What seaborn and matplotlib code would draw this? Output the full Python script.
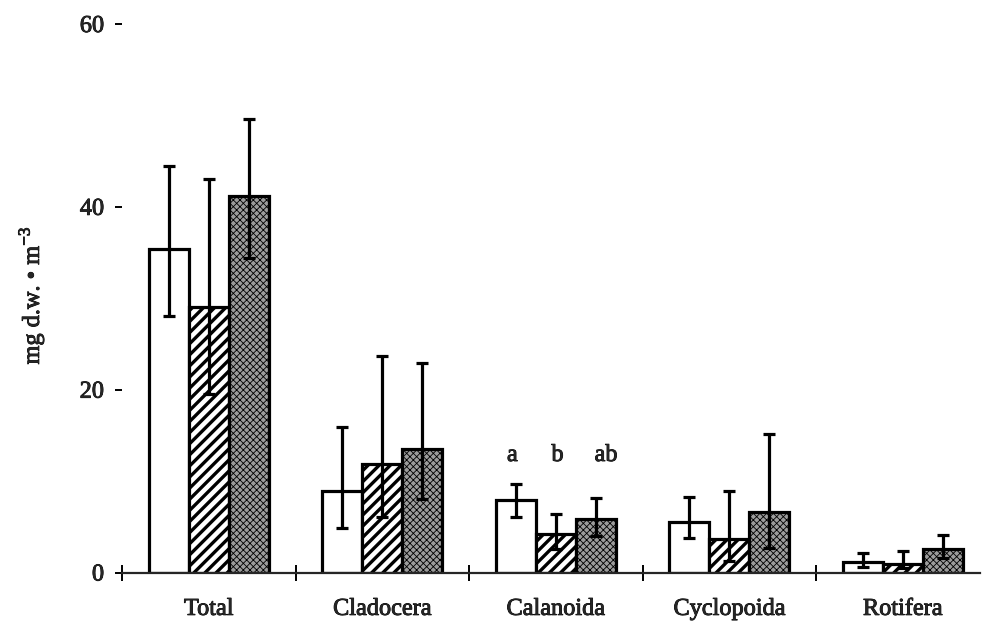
import matplotlib
matplotlib.use("Agg")
import matplotlib.pyplot as plt
import matplotlib.patheffects as pe
import numpy as np
import pandas as pd
import seaborn as sns

# Zooplankton biomass per group (mg dry weight per m^3), three treatments
categories = ["Total", "Cladocera", "Calanoida", "Cyclopoida", "Rotifera"]
treatments = ["I", "II", "III"]

mean_i = [35.4, 8.9, 7.9, 5.5, 1.2]
mean_ii = [29.0, 11.9, 4.2, 3.7, 0.9]
mean_iii = [41.2, 13.5, 5.8, 6.6, 2.6]

low_i = [28.1, 4.9, 6.1, 3.8, 0.55]
high_i = [44.5, 15.9, 9.7, 8.3, 2.1]
low_ii = [19.5, 6.1, 2.6, 1.3, 0.5]
high_ii = [43.0, 23.7, 6.4, 8.9, 2.3]
low_iii = [34.4, 8.0, 4.0, 2.7, 1.6]
high_iii = [49.6, 22.9, 8.1, 15.1, 4.1]

# significance letters above the Calanoida bars
letters = ["a", "b", "ab"]
letter_y = 12.8

y_ticks = [0, 20, 40, 60]

means = [mean_i, mean_ii, mean_iii]
lows = [low_i, low_ii, low_iii]
highs = [high_i, high_ii, high_iii]

df = pd.DataFrame({
    "group": np.repeat([categories], len(treatments), axis=0).ravel(),
    "treatment": np.repeat(treatments, len(categories)),
    "biomass": np.concatenate(means),
})

sns.set_style("white")
plt.rcParams["font.family"] = ["Liberation Serif", "DejaVu Serif"]
plt.rcParams["mathtext.fontset"] = "custom"
plt.rcParams["mathtext.rm"] = "Liberation Serif"
plt.rcParams["hatch.linewidth"] = 2.4

fig = plt.figure(figsize=(9.87, 6.29), dpi=100)
ax = fig.add_axes([0.1236, 0.0898, 0.8693, 0.8720])

gray = "#9c9c9c"
sns.barplot(data=df, x="group", y="biomass", hue="treatment",
            order=categories, hue_order=treatments, width=0.69, gap=0,
            errorbar=None, legend=False, ax=ax,
            palette=["white", "white", gray],
            edgecolor="black", linewidth=2.3, saturation=1)

heavy = [pe.withStroke(linewidth=0.6, foreground="black")]

bar_containers = list(ax.containers)
styles = [("white", ""), ("white", "///"), (gray, "xxxxx")]
for k, cont in enumerate(bar_containers):
    face, hatch = styles[k]
    xs = []
    for bar in cont:
        bar.set_facecolor(face)
        bar.set_edgecolor("black")
        bar.set_hatch(hatch)
        if k == 2 and hasattr(bar, "set_hatch_linewidth"):
            bar.set_hatch_linewidth(0.6)
        xs.append(bar.get_x() + bar.get_width() / 2)
    xs = np.array(xs)
    m = np.array(means[k])
    lo = np.array(lows[k])
    hi = np.array(highs[k])
    ax.errorbar(xs, m, yerr=[m - lo, hi - m], fmt="none", ecolor="black",
                elinewidth=2.3, capsize=4.5, capthick=2.3, zorder=5)
    # letters over the Calanoida bars
    ax.text(xs[2] + [-0.02, 0.01, 0.06][k], letter_y, letters[k],
            ha="center", va="center", fontsize=17.5, path_effects=heavy)

ax.set_xlim(-0.5, 4.445)
ax.set_ylim(0, 60)
ax.set_yticks(y_ticks)
ax.set_xticks(range(len(categories)))
ax.set_xticklabels(categories)
ax.set_xticks(np.arange(-0.5, len(categories) - 1), minor=True)

for side in ["left", "top", "right"]:
    ax.spines[side].set_visible(False)
ax.spines["bottom"].set_linewidth(1.6)

ax.tick_params(axis="x", which="major", bottom=False, length=0, pad=19,
               labelsize=17.5)
ax.tick_params(axis="x", which="minor", bottom=True, direction="inout",
               length=11, width=1.4, color="black")
ax.tick_params(axis="y", direction="out", length=5, width=1.4, pad=8,
               labelsize=17.5, left=True, color="black")

ax.set_xlabel("")
ax.set_ylabel("mg d.w. • m$^{-3}$", fontsize=17.5)
ax.yaxis.set_label_coords(-0.088, 0.505)

for t in ax.get_xticklabels() + ax.get_yticklabels() + [ax.yaxis.label]:
    t.set_path_effects(heavy)

fig.savefig("out.png", dpi=100)
